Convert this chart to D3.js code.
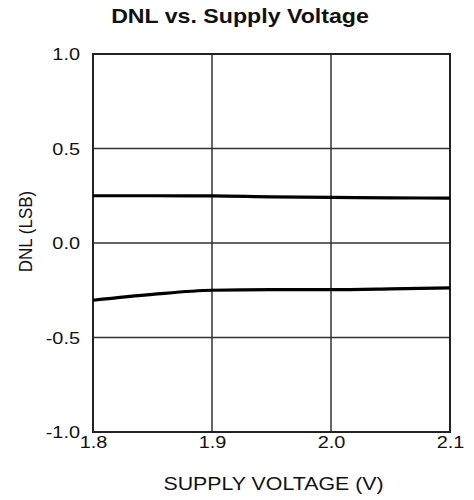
<!DOCTYPE html>
<html>
<head>
<meta charset="utf-8">
<script src="https://cdn.jsdelivr.net/npm/d3@7"></script>
<style>
  body { margin: 0; background: #fff; }
  text { font-family: "Liberation Sans", Arial, sans-serif; fill: #111; }
</style>
</head>
<body>
<div id="chart"></div>
<script>
// Chart values.
var voltages = [1.8, 1.85, 1.9, 1.95, 2.0, 2.05, 2.1];
var dnlMax = [0.25, 0.25, 0.249, 0.244, 0.241, 0.239, 0.237];
var dnlMin = [-0.303, -0.272, -0.25, -0.247, -0.247, -0.243, -0.237];
var xTicks = [1.8, 1.9, 2.0, 2.1];
var yTicks = [-1.0, -0.5, 0.0, 0.5, 1.0];

var svgWidth = 474;
var svgHeight = 500;
var margin = {top: 54, right: 24, bottom: 68, left: 93};
var chartWidth = svgWidth - margin.left - margin.right;
var chartHeight = svgHeight - margin.top - margin.bottom;

var svg = d3.select("#chart").append("svg").attr("width", svgWidth).attr("height", svgHeight);
var chartGroup = svg.append("g").attr("transform", `translate(${margin.left},${margin.top})`);

var xScale = d3.scaleLinear().domain([1.8, 2.1]).range([0, chartWidth]);
var yScale = d3.scaleLinear().domain([-1, 1]).range([chartHeight, 0]);

// Grid lines
chartGroup.append("g").selectAll("line").data(xTicks.slice(1, -1)).enter().append("line")
    .attr("x1", d => xScale(d)).attr("x2", d => xScale(d))
    .attr("y1", 0).attr("y2", chartHeight)
    .attr("stroke", "#333").attr("stroke-width", 1.5);
chartGroup.append("g").selectAll("line").data(yTicks.slice(1, -1)).enter().append("line")
    .attr("x1", 0).attr("x2", chartWidth)
    .attr("y1", d => yScale(d)).attr("y2", d => yScale(d))
    .attr("stroke", "#333").attr("stroke-width", 1.5);

// Axes (labels only, frame drawn separately). The text in the reference is a bit wide, so stretch it.
var fmt = d => d3.format(".1f")(d).replace("\u2212", "-");
var bottomAxis = d3.axisBottom(xScale).tickValues(xTicks).tickFormat(fmt).tickSize(0).tickPadding(0);
var leftAxis = d3.axisLeft(yScale).tickValues(yTicks).tickFormat(fmt).tickSize(0).tickPadding(0);

var xAxis = chartGroup.append("g").attr("transform", `translate(0,${chartHeight})`).call(bottomAxis);
var yAxis = chartGroup.append("g").call(leftAxis);
[xAxis, yAxis].forEach(a => {
    a.select(".domain").remove();
    a.selectAll("text").attr("font-size", "17px").attr("fill", "#111")
        .attr("font-family", "'Liberation Sans', Arial, sans-serif");
});
xAxis.selectAll("text").attr("dy", null).attr("y", null)
    .attr("transform", "translate(0,16) scale(1.17,1)");
yAxis.selectAll("text").attr("x", null).attr("dy", "0.34em")
    .attr("transform", "translate(-13,0) scale(1.17,1)");

// Frame
chartGroup.append("rect").attr("width", chartWidth).attr("height", chartHeight)
    .attr("fill", "none").attr("stroke", "#222").attr("stroke-width", 2);

// Curves
var line = d3.line().curve(d3.curveMonotoneX);
[dnlMax, dnlMin].forEach(vals => {
    chartGroup.append("path")
        .attr("d", line(voltages.map((v, i) => [xScale(v), yScale(vals[i])])))
        .attr("fill", "none").attr("stroke", "#000").attr("stroke-width", 3.2);
});

// Title and axis labels
svg.append("text").attr("transform", "translate(240,23) scale(1.13,1)").attr("text-anchor", "middle")
    .attr("font-size", "20.5px").attr("font-weight", "bold").text("DNL vs. Supply Voltage");
svg.append("text").attr("transform", "translate(273.5,490) scale(1.22,1)").attr("text-anchor", "middle")
    .attr("font-size", "17.5px").text("SUPPLY VOLTAGE (V)");
svg.append("text").attr("transform", "translate(32,231.5) rotate(-90) scale(1,1.12)").attr("text-anchor", "middle")
    .attr("font-size", "17px").text("DNL (LSB)");
</script>
</body>
</html>
